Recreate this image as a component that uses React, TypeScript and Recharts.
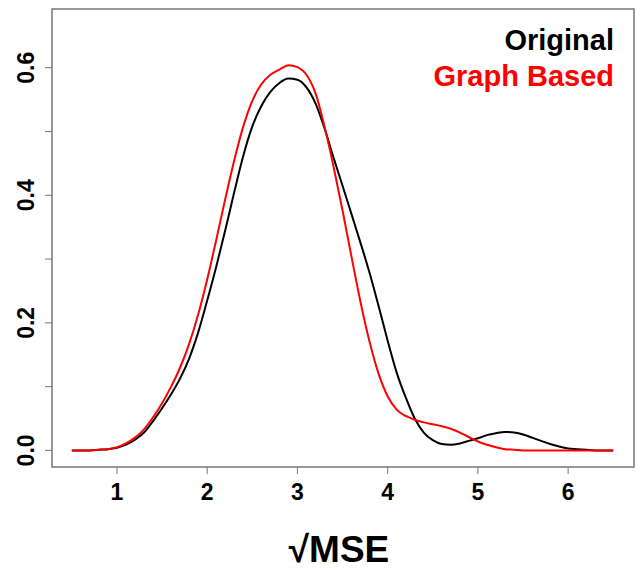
import React from "react";
import {
  LineChart,
  Line,
  XAxis,
  YAxis,
  ReferenceArea,
} from "recharts";

// sqrt(MSE) grid, 0.5 .. 6.5 step 0.1
const xs = [
  0.5, 0.6, 0.7, 0.8, 0.9, 1.0, 1.1, 1.2, 1.3, 1.4,
  1.5, 1.6, 1.7, 1.8, 1.9, 2.0, 2.1, 2.2, 2.3, 2.4,
  2.5, 2.6, 2.7, 2.8, 2.9, 3.0, 3.1, 3.2, 3.3, 3.4,
  3.5, 3.6, 3.7, 3.8, 3.9, 4.0, 4.1, 4.2, 4.3, 4.4,
  4.5, 4.6, 4.7, 4.8, 4.9, 5.0, 5.1, 5.2, 5.3, 5.4,
  5.5, 5.6, 5.7, 5.8, 5.9, 6.0, 6.1, 6.2, 6.3, 6.4,
  6.5,
];

const original = [
  0.0, 0.0, 0.0, 0.001, 0.002, 0.004, 0.009, 0.017, 0.028, 0.046,
  0.066, 0.088, 0.113, 0.144, 0.185, 0.235, 0.288, 0.345, 0.405, 0.462,
  0.508, 0.54, 0.562, 0.576, 0.583, 0.581, 0.569, 0.544, 0.505, 0.459,
  0.415, 0.37, 0.325, 0.278, 0.226, 0.172, 0.122, 0.083, 0.05, 0.028,
  0.016, 0.01, 0.009, 0.011, 0.015, 0.019, 0.024, 0.027, 0.029, 0.028,
  0.025, 0.02, 0.015, 0.01, 0.006, 0.003, 0.002, 0.001, 0.0, 0.0,
  0.0,
];

const graphBased = [
  0.0, 0.0, 0.0, 0.001, 0.002, 0.005, 0.011, 0.02, 0.033, 0.052,
  0.074, 0.1, 0.13, 0.167, 0.213, 0.268, 0.33, 0.394, 0.455, 0.508,
  0.548, 0.574, 0.589, 0.597, 0.604, 0.601, 0.589, 0.56, 0.508, 0.445,
  0.376, 0.303, 0.232, 0.17, 0.12, 0.085, 0.064, 0.054, 0.048, 0.044,
  0.041, 0.038, 0.034, 0.028, 0.021, 0.014, 0.009, 0.005, 0.002, 0.001,
  0.0, 0.0, 0.0, 0.0, 0.0, 0.0, 0.0, 0.0, 0.0, 0.0,
  0.0,
];

const xTicks = [1, 2, 3, 4, 5, 6];
const yTicks = [0, 0.1, 0.2, 0.3, 0.4, 0.5, 0.6];
const yLabelled = [0, 0.2, 0.4, 0.6];

const series = [
  { key: "original", name: "Original", color: "#000000" },
  { key: "graphBased", name: "Graph Based", color: "#ff0000" },
];

const data = xs.map((x, i) => ({ x, original: original[i], graphBased: graphBased[i] }));

const FONT = "'Liberation Sans', Arial, sans-serif";
const X_DOMAIN: [number, number] = [0.28, 6.73];
const Y_DOMAIN: [number, number] = [-0.026, 0.692];

const YTick = (props: any) => {
  const { x, y, payload } = props;
  if (!yLabelled.some((v) => Math.abs(v - payload.value) < 1e-6)) return null;
  return (
    <text
      transform={`translate(${x - 17},${y}) rotate(-90)`}
      textAnchor="middle"
      dy="0.36em"
      fontFamily={FONT}
      fontWeight="bold"
      fontSize={23}
      fill="#000"
    >
      {payload.value.toFixed(1)}
    </text>
  );
};

const XLabel = (props: any) => {
  const { viewBox } = props;
  return (
    <text
      x={viewBox.x + viewBox.width / 2 - 4}
      y={562}
      textAnchor="middle"
      fontFamily={FONT}
      fontWeight="bold"
      fontSize={37}
      fill="#000"
    >
      √MSE
    </text>
  );
};

export default function App() {
  return (
    <div style={{ position: "absolute", left: 0, top: 0, width: 636, height: 569, background: "#fff" }}>
      <LineChart
        width={636}
        height={569}
        data={data}
        margin={{ top: 9, right: 2, left: 0, bottom: 0 }}
      >
        <XAxis
          dataKey="x"
          type="number"
          domain={X_DOMAIN}
          ticks={xTicks}
          allowDataOverflow
          axisLine={false}
          tickSize={7}
          tickMargin={10}
          tickLine={{ stroke: "#777" }}
          height={102}
          tick={{ fontFamily: FONT, fontWeight: "bold", fontSize: 23, fill: "#000" }}
          label={<XLabel />}
        />
        <YAxis
          type="number"
          domain={Y_DOMAIN}
          ticks={yTicks}
          allowDataOverflow
          axisLine={false}
          tickSize={7}
          tickMargin={2}
          tickLine={{ stroke: "#777" }}
          width={52}
          tick={<YTick />}
        />
        <ReferenceArea
          x1={X_DOMAIN[0]}
          x2={X_DOMAIN[1]}
          y1={Y_DOMAIN[0]}
          y2={Y_DOMAIN[1]}
          fill="none"
          stroke="#777"
          strokeWidth={1.5}
          ifOverflow="visible"
        />
        {series.map((s) => (
          <Line
            key={s.key}
            type="monotone"
            dataKey={s.key}
            name={s.name}
            stroke={s.color}
            strokeWidth={2}
            dot={false}
            isAnimationActive={false}
          />
        ))}
      </LineChart>
      <div
        style={{
          position: "absolute",
          right: 22,
          top: 22,
          textAlign: "right",
          fontFamily: FONT,
          fontWeight: "bold",
          fontSize: 29,
          lineHeight: "36px",
        }}
      >
        {series.map((s) => (
          <div key={s.key} style={{ color: s.color }}>
            {s.name}
          </div>
        ))}
      </div>
    </div>
  );
}
